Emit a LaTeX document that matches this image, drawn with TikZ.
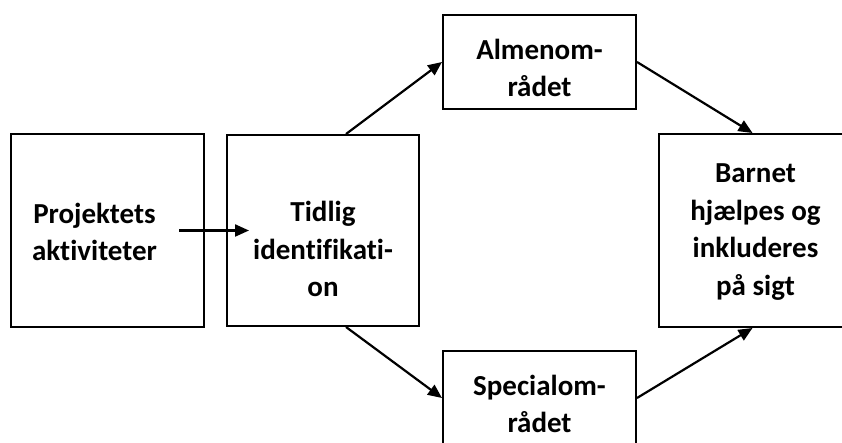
\documentclass[tikz,border=0pt]{standalone}
\usepackage{fontspec}
\setmainfont{Carlito}[Ligatures={NoCommon,NoRare,NoDiscretionary},Contextuals=NoAlternate]
\usetikzlibrary{arrows.meta,calc}
\begin{document}
\begin{tikzpicture}[x=1pt,y=-1pt,
  box/.style={draw,line width=2pt,inner sep=0pt},
  lbl/.style={align=center,inner sep=0pt,font=\fontsize{29}{37.5}\selectfont\bfseries},
  arr/.style={line width=2.2pt,-{Triangle[length=14pt,width=12pt]}}]
\useasboundingbox (0,0) rectangle (842,443);
\node[box,minimum width=193pt,minimum height=193pt] (b1) at (107.5,230.5) {};
\node[box,minimum width=192pt,minimum height=191pt] (b2) at (323,230.5) {};
\node[box,minimum width=193pt,minimum height=94pt] (al) at (539.5,62) {};
\node[box,minimum width=193pt,minimum height=94pt] (sp) at (539.5,398) {};
\node[box,minimum width=193pt,minimum height=193pt] (b5) at (755.5,230.5) {};
\node[lbl] (t1) at (94.5,232) {Projektets\\aktiviteter};
\node[lbl] (t2) at (323,249) {Tidlig\\identifikati-\\on};
\node[lbl] (t3) at (539.5,68) {Almenom-\\rådet};
\node[lbl] (t4) at (539.5,404) {Specialom-\\rådet};
\node[lbl] (t5) at (755.5,232) {Barnet\\hjælpes og\\inkluderes\\på sigt};
\coordinate (h1) at ($(b1.east)+(-26,0)$);
\coordinate (h2) at ($(b2.west)+(23,0)$);
\coordinate (u1) at ($(b2.north west)+(120,0)$);
\coordinate (d1) at ($(b2.south west)+(120,0)$);
\coordinate (u2) at ($(b5.north)+(-3,0)$);
\coordinate (d2) at ($(b5.south)+(-3,0)$);
\draw[arr] (h1) -- (h2);
\draw[arr] (u1) -- (al.west);
\draw[arr] (al.east) -- (u2);
\draw[arr] (d1) -- (sp.west);
\draw[arr] (sp.east) -- (d2);
\end{tikzpicture}
\end{document}
